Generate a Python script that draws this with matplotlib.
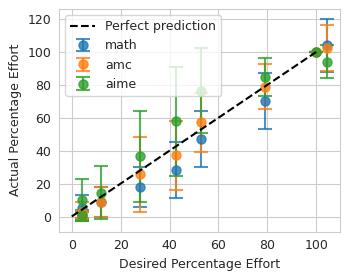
import matplotlib
matplotlib.use("Agg")
import matplotlib.pyplot as plt
import seaborn as sns

# desired effort levels (same for each dataset)
desired = [4, 4, 12, 28, 42.5, 53, 79, 100, 104.5]

math_y = [5, 1, 9, 18, 28, 47, 70, 100, 104]
math_err = [8, 2, 9, 12, 17, 17, 17, 0, 16]

amc_y = [3, 1, 9, 25.6, 37.2, 57.3, 79, 100, 102.4]
amc_err = [6, 2, 9, 22.7, 21, 18, 13.6, 0, 14]

aime_y = [10, 1, 14.5, 36.5, 57.8, 76.5, 85, 100, 94]
aime_err = [13, 3, 16.3, 27.8, 33, 26, 11.5, 0, 10]

perfect = [0, 100]

sns.set_style("whitegrid")
plt.rcParams['font.family'] = ['DejaVu Sans']

fig = plt.figure(figsize=(3.49, 2.8), dpi=100)
ax = fig.add_axes([0.169, 0.173, 0.805, 0.795])

for name, y, err in [("math", math_y, math_err), ("amc", amc_y, amc_err), ("aime", aime_y, aime_err)]:
    ax.errorbar(desired, y, yerr=err, fmt="o", capsize=5, markersize=6.5,
                alpha=0.8, label=name, elinewidth=1.5, capthick=1.5)

ax.plot(perfect, perfect, "k--", lw=1.5, label="Perfect prediction", zorder=5)

ax.set_xlabel("Desired Percentage Effort", fontsize=9)
ax.set_ylabel("Actual Percentage Effort", fontsize=9)
ax.tick_params(labelsize=9, pad=2)
ax.set_xticks([0, 20, 40, 60, 80, 100])
ax.set_yticks([0, 20, 40, 60, 80, 100, 120])
ax.legend(loc="upper left", fontsize=9)

fig.savefig("out.png", dpi=100)
